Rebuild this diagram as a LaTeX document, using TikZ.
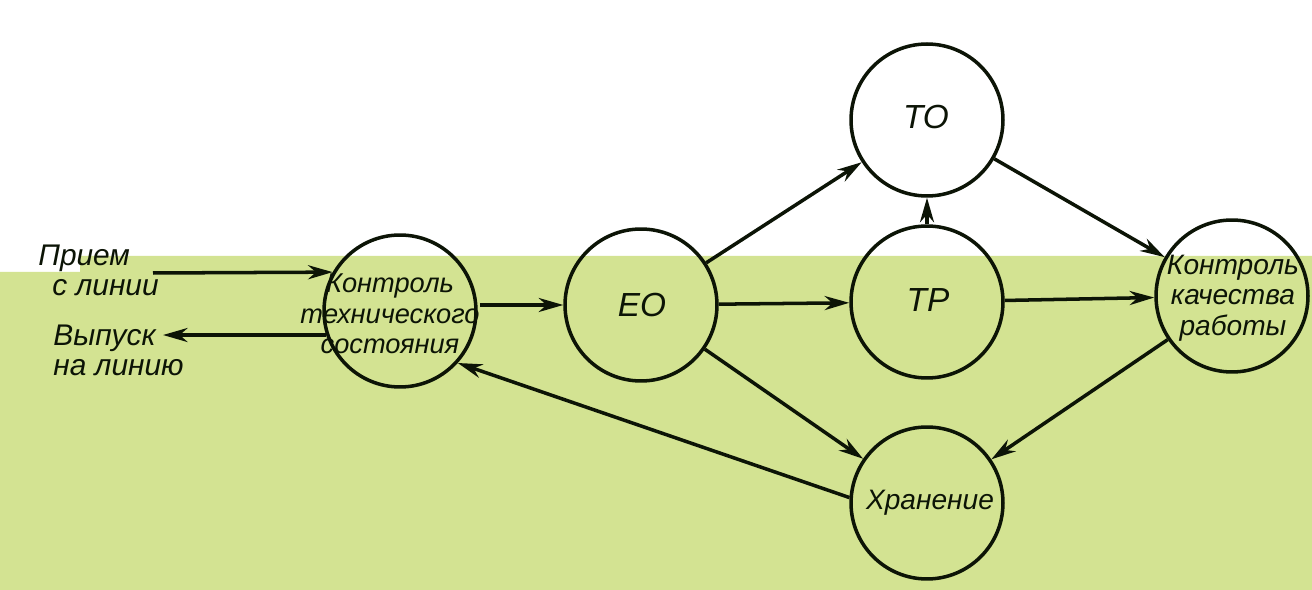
\documentclass[tikz,border=0pt]{standalone}
\usepackage{fontspec}
\setmainfont{Liberation Sans}
\usetikzlibrary{arrows.meta}
\definecolor{pale}{RGB}{211,227,146}
\definecolor{ink}{RGB}{12,20,6}
\begin{document}
\begin{tikzpicture}[x=0.02cm,y=-0.02cm,
  stage/.style={circle,draw=ink,line width=2pt,minimum size=3.04cm,inner sep=0pt},
  words/.style={inner sep=0pt,align=center,text=ink,font=\itshape\fontsize{16}{17.5}\selectfont},
  big/.style={font=\itshape\fontsize{19}{20}\selectfont},
  flow/.style={draw=ink,line width=2pt,-{Stealth[length=14pt,width=8pt,inset=4.5pt]}},
  lab/.style={inner sep=0pt,anchor=north west,align=left,text=ink,font=\itshape\fontsize{17}{17}\selectfont}]
\useasboundingbox (0,0) rectangle (1312,590);
\fill[pale] (0,272) -- (80,272) -- (80,256) -- (1312,256) -- (1312,590) -- (0,590) -- cycle;
\node[stage] (kts) at (400,311) {};
\node[stage] (eo) at (641,305) {};
\node[stage] (to) at (927,120) {};
\node[stage] (tr) at (927,302) {};
\node[stage] (kkr) at (1232,296) {};
\node[stage] (xr) at (927,503) {};
\node[words,font=\itshape\fontsize{15.5}{17.5}\selectfont] (ktstext) at (390,314) {Контроль\\технического\\состояния};
\node[words,big] (eotext) at (642,305) {ЕО};
\node[words,big] (totext) at (926,117) {ТО};
\node[words,big] (trtext) at (928,300) {ТР};
\node[words] (kkrtext) at (1233,298) {Контроль\\качества\\работы};
\node[words] (xrtext) at (930,503) {Хранение};
\node[lab] (priem) at (38,245) {Прием\\\hspace*{0.28cm}с линии};
\node[lab] (vypusk) at (53,325) {Выпуск\\на линию};
\coordinate (pin) at (153,273);
\coordinate (pout) at (163,335);
\draw[flow] (pin) -- (kts.150);
\draw[flow] (kts.198) -- (kts.198 -| pout);
\draw[flow] (ktstext.east |- eo) -- (eo);
\draw[flow] (eo) -- (tr);
\draw[flow] (tr) -- (kkr);
\draw[flow] (eo) -- (to);
\draw[flow] (tr) -- (to);
\draw[flow] (to) -- (kkr);
\draw[flow] (eo) -- (xr);
\draw[flow] (kkr) -- (xr);
\draw[flow] (xr.176) -- (kts.-42);
\end{tikzpicture}
\end{document}
